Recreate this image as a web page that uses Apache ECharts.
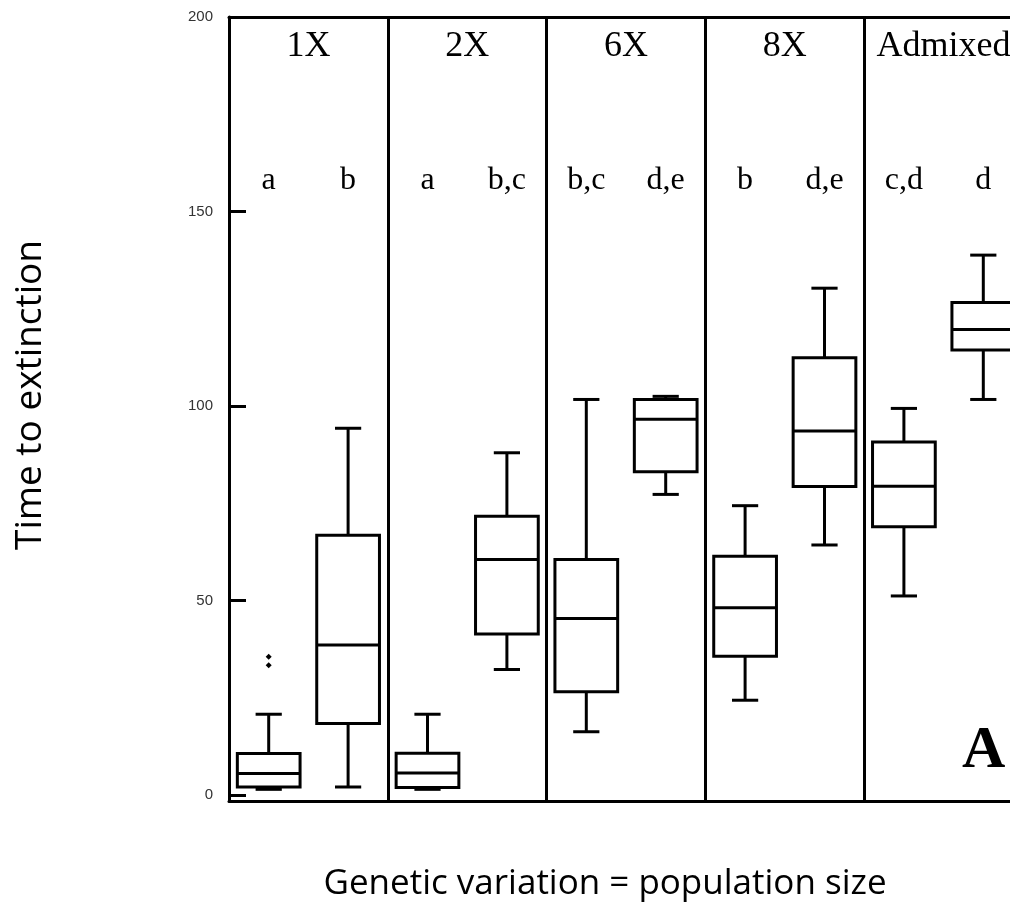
<!DOCTYPE html>
<html>
<head>
<meta charset="utf-8">
<script src="https://cdn.jsdelivr.net/npm/echarts@6/dist/echarts.min.js"></script>
<style>
  html, body { margin: 0; padding: 0; background: #fff; }
  #chart { width: 1010px; height: 912px; }
</style>
</head>
<body>
<div id="chart"></div>
<script>
// ---- data ----
const panels = ['1X', '2X', '6X', '8X', 'Admixed'];
const boxNames = ['1X-1', '1X-2', '2X-1', '2X-2', '6X-1', '6X-2', '8X-1', '8X-2', 'Admixed-1', 'Admixed-2'];
const groupLetters = ['a', 'b', 'a', 'b,c', 'b,c', 'd,e', 'b', 'd,e', 'c,d', 'd'];
const whiskerLow  = [1.5,  2.1, 1.5, 32.3, 16.3,  77.3, 24.4,  64.3, 51.2, 101.7];
const quart1      = [2.1, 18.4, 2.0, 41.4, 26.6,  83.1, 35.7,  79.3, 69.0, 114.4];
const medians     = [5.6, 38.6, 5.7, 60.6, 45.4,  96.6, 48.2,  93.6, 79.4, 119.7];
const quart3      = [10.7, 66.8, 10.8, 71.7, 60.6, 101.7, 61.4, 112.4, 90.8, 126.6];
const whiskerHigh = [20.8, 94.3, 20.8, 88.0, 101.7, 102.5, 74.4, 130.3, 99.4, 138.8];
const outliers = [[0, 35.6], [0, 33.4]];
const yTicks = [0, 50, 100, 150, 200];
const letterLevel = 158;
const panelTag = 'A';
const yTitle = 'Time to extinction';
const xTitle = 'Genetic variation = population size';

// ---- build ----
const boxData = boxNames.map((n, i) => [i, whiskerLow[i], quart1[i], medians[i], quart3[i], whiskerHigh[i]]);
const letterData = groupLetters.map((g, i) => ({ name: g, value: [i, letterLevel] }));

function renderBox(params, api) {
  const x = api.value(0);
  const lo = api.coord([x, api.value(1)]);
  const q1 = api.coord([x, api.value(2)]);
  const md = api.coord([x, api.value(3)]);
  const q3 = api.coord([x, api.value(4)]);
  const hi = api.coord([x, api.value(5)]);
  const band = api.size([1, 0])[0];
  const bw = band * 0.79;
  const cw = band * 0.33;
  const cx = lo[0];
  const st = { stroke: '#000', lineWidth: 3, fill: null };
  return {
    type: 'group',
    children: [
      { type: 'line', shape: { x1: cx, y1: hi[1], x2: cx, y2: q3[1] }, style: st },
      { type: 'line', shape: { x1: cx, y1: q1[1], x2: cx, y2: lo[1] }, style: st },
      { type: 'line', shape: { x1: cx - cw / 2, y1: hi[1], x2: cx + cw / 2, y2: hi[1] }, style: st },
      { type: 'line', shape: { x1: cx - cw / 2, y1: lo[1], x2: cx + cw / 2, y2: lo[1] }, style: st },
      { type: 'rect', shape: { x: cx - bw / 2, y: q3[1], width: bw, height: q1[1] - q3[1] },
        style: { stroke: '#000', lineWidth: 3, fill: '#fff' } },
      { type: 'line', shape: { x1: cx - bw / 2, y1: md[1], x2: cx + bw / 2, y2: md[1] }, style: st }
    ]
  };
}

const chart = echarts.init(document.getElementById('chart'), null, { renderer: 'canvas' });
chart.setOption({
  animation: false,
  backgroundColor: '#fff',
  title: {
    text: panelTag,
    left: 957, top: 716,
    textStyle: { fontFamily: 'Liberation Serif', fontWeight: 'bold', fontSize: 60, color: '#000' }
  },
  grid: { left: 229, width: 794, top: 17, bottom: 111, containLabel: false, outerBoundsMode: 'none' },
  xAxis: [
    {
      type: 'category', data: boxNames, position: 'bottom',
      axisLine: { show: true, onZero: false, lineStyle: { color: '#000', width: 3 } },
      axisTick: { show: false }, axisLabel: { show: false }, splitLine: { show: false },
      name: xTitle, nameLocation: 'middle', nameGap: 66,
      nameTextStyle: { fontFamily: 'Open Sans', fontSize: 35, color: '#000', padding: [0, 42, 0, 0] }
    },
    {
      type: 'category', data: panels, position: 'top',
      axisLine: { show: true, onZero: false, lineStyle: { color: '#000', width: 3 } },
      axisTick: { show: false },
      axisLabel: { show: true, inside: true, interval: 0, margin: 12,
        fontFamily: 'Liberation Serif', fontSize: 36, color: '#000' },
      splitLine: { show: true, interval: 0, lineStyle: { color: '#000', width: 3 } }
    }
  ],
  yAxis: {
    type: 'value', min: -1.5, max: 200,
    axisLine: { show: true, onZero: false, lineStyle: { color: '#000', width: 3 } },
    axisTick: { show: true, inside: true, length: 17, customValues: yTicks, lineStyle: { color: '#000', width: 3 } },
    axisLabel: { show: true, customValues: yTicks, margin: 16, fontFamily: 'Liberation Sans', fontSize: 15, color: '#333' },
    splitLine: { show: false },
    name: yTitle, nameLocation: 'middle', nameGap: 180,
    nameTextStyle: { fontFamily: 'Open Sans', fontSize: 37, color: '#000', padding: [0, 0, 0, 28] }
  },
  series: [
    {
      type: 'custom', name: 'Time to extinction', xAxisIndex: 0, yAxisIndex: 0,
      renderItem: renderBox, data: boxData,
      encode: { x: 0, y: [1, 2, 3, 4, 5] }, z: 3
    },
    {
      type: 'scatter', name: 'outliers', xAxisIndex: 0, data: outliers,
      symbol: 'diamond', symbolSize: [6, 6], itemStyle: { color: '#000', opacity: 1 }, z: 4
    },
    {
      type: 'scatter', name: 'groups', xAxisIndex: 0, data: letterData,
      symbolSize: 1, itemStyle: { color: 'rgba(0,0,0,0)', opacity: 1 }, silent: true,
      label: { show: true, position: 'inside', formatter: p => p.name,
        fontFamily: 'Liberation Serif', fontSize: 32, color: '#000', textBorderWidth: 0 }
    }
  ]
});
</script>
</body>
</html>
